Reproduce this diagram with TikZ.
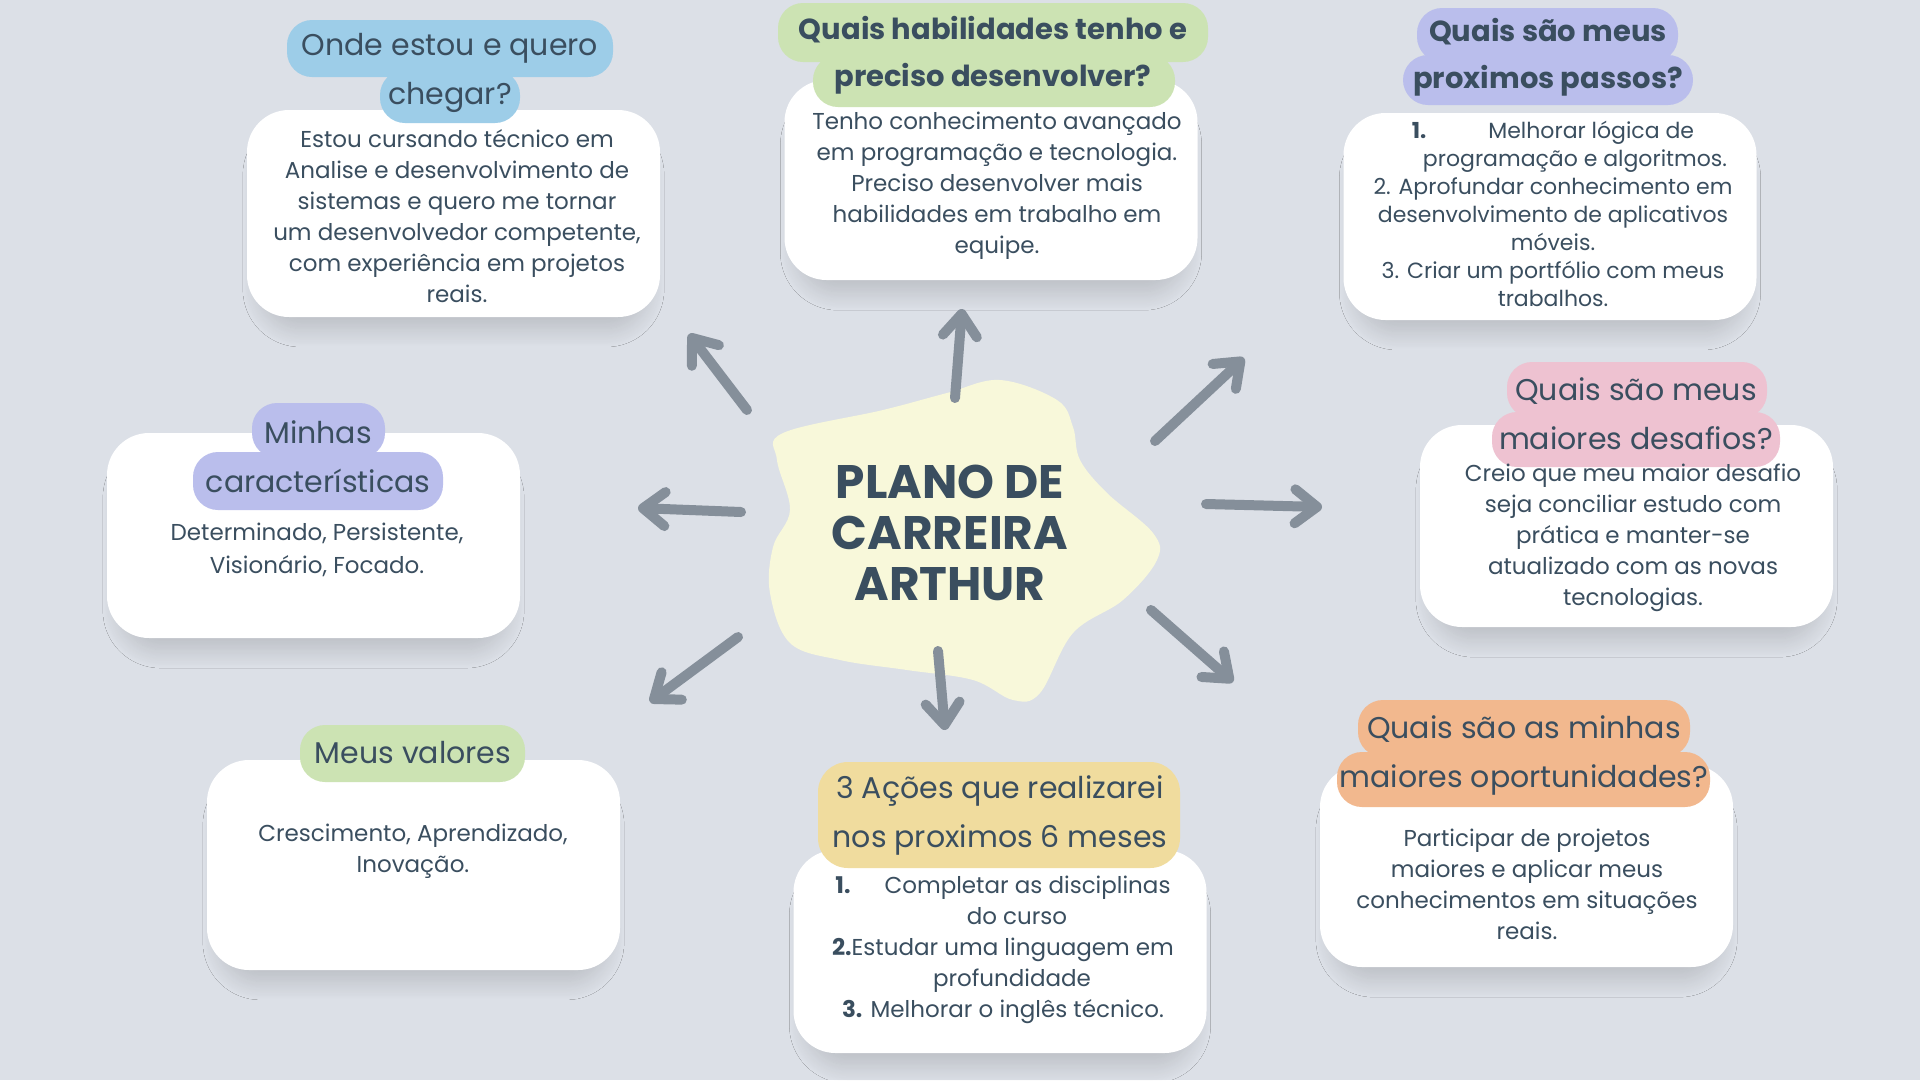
\documentclass[tikz,border=0pt]{standalone}
\usepackage{fontspec}
\setmainfont{Poppins}
\usepackage{xcolor}
\usepackage{tikz}
\usetikzlibrary{arrows.meta,shadows.blur}

\definecolor{bg}{HTML}{DCE0E7}
\definecolor{ink}{HTML}{3A4E5F}
\definecolor{arrowc}{HTML}{858F9A}
\definecolor{blob}{HTML}{F8F8DA}
\definecolor{tblue}{HTML}{9DCDE8}
\definecolor{tgreen}{HTML}{CCE3B3}
\definecolor{tpurple}{HTML}{BABEEC}
\definecolor{tpink}{HTML}{EEC2D1}
\definecolor{tyellow}{HTML}{F0DC9E}
\definecolor{torange}{HTML}{F2B88E}

\begin{document}
\begin{tikzpicture}[x=1pt, y=-1pt,
  card/.style={fill=white, rounded corners=42pt, minimum width=413pt,
    blur shadow={shadow xshift=0pt, shadow yshift=-20pt, shadow scale=0.93, shadow opacity=16,
      shadow blur radius=20pt, shadow blur steps=24}},
  tab/.style={rounded corners=25pt, inner sep=0pt},
  head/.style={text=ink, align=center, font=\fontsize{30}{49}\selectfont},
  headb/.style={text=ink, align=center, font=\bfseries\fontsize{29}{47}\selectfont},
  body/.style={text=ink, align=center, font=\fontsize{23}{31}\selectfont},
  arr/.style={draw=arrowc, line width=10pt, line cap=round,
    -{Straight Barb[length=22pt, width=34pt, round]}}]
  \fill[bg] (0,0) rectangle (1920,1080);
  \useasboundingbox (0,0) rectangle (1920,1080);

  % cards
  \node[card, minimum height=207pt] (onde)  at (453.5,213.5) {};
  \node[card, minimum height=200pt] (habil) at (991,180) {};
  \node[card, minimum height=207pt] (passo) at (1550,216.5) {};
  \node[card, minimum height=205pt] (carac) at (313.5,535.5) {};
  \node[card, minimum height=202pt] (desaf) at (1626.5,526) {};
  \node[card, minimum height=210pt] (valor) at (413.5,865) {};
  \node[card, minimum height=203pt] (acoes) at (1000,951.5) {};
  \node[card, minimum height=202pt] (oport) at (1526.5,866) {};

  % header tabs
  \node[tab, fill=tblue, minimum width=326pt, minimum height=57pt] (ondea) at (450,48.5) {};
  \node[tab, fill=tblue, minimum width=140pt, minimum height=53pt] (ondeb) at (450,96.5) {};
  \node[tab, fill=tgreen, minimum width=430pt, minimum height=59pt] (habila) at (993,32.5) {};
  \node[tab, fill=tgreen, minimum width=362pt, minimum height=52pt] (habilb) at (994,81) {};
  \node[tab, fill=tpurple, minimum width=261pt, minimum height=54pt] (passoa) at (1547.5,35) {};
  \node[tab, fill=tpurple, minimum width=290pt, minimum height=50pt] (passob) at (1548,80) {};
  \node[tab, fill=tpurple, minimum width=133pt, minimum height=55pt] (caraca) at (318.5,430.5) {};
  \node[tab, fill=tpurple, minimum width=250pt, minimum height=58pt] (caracb) at (318,481) {};
  \node[tab, fill=tpink, minimum width=260pt, minimum height=56pt] (desafa) at (1637,390) {};
  \node[tab, fill=tpink, minimum width=288pt, minimum height=55pt] (desafb) at (1636,439.5) {};
  \node[tab, fill=tgreen, minimum width=225pt, minimum height=57pt] (valora) at (412.5,753.5) {};
  \node[tab, fill=tyellow, rounded corners=30pt, minimum width=362pt, minimum height=106pt] (acoesa) at (999,815) {};
  \node[tab, fill=torange, minimum width=332pt, minimum height=57pt] (oporta) at (1524,728.5) {};
  \node[tab, fill=torange, minimum width=373pt, minimum height=55pt] (oportb) at (1523.5,779.5) {};

  % center blob
  \fill[blob] plot[smooth cycle, tension=0.6] coordinates {
    (783,433) (883,410) (947,393) (1000,380) (1057,400) (1073,427) (1080,460)
    (1107,493) (1153,533) (1157,560) (1123,600) (1073,633) (1040,693) (1013,700)
    (973,680) (907,670) (840,660) (790,643) (770,593) (773,547) (790,510) (777,460)};
  \node[text=ink, align=center, font=\bfseries\fontsize{47}{51}\selectfont] (title) at (950,533)
    {PLANO DE\\CARREIRA\\ARTHUR};

  % headings
  \node[head] (ondeh) at (450,72.5) {Onde estou e quero\\chegar?};
  \node[headb] (habilh) at (993,55) {Quais habilidades tenho e\\preciso desenvolver?};
  \node[headb] (passoh) at (1548,57.5) {Quais são meus\\proximos passos?};
  \node[head] (carach) at (318,457) {Minhas\\características};
  \node[head] (desafh) at (1636,414) {Quais são meus\\maiores desafios?};
  \node[head] (valorh) at (413,753) {Meus valores};
  \node[head] (acoesh) at (1000,815) {3 Ações que realizarei\\nos proximos 6 meses};
  \node[head] (oporth) at (1524,755) {Quais são as minhas\\maiores oportunidades?};

  % texts
  \node[body] (ondet) at (457,216.5) {Estou cursando técnico em\\Analise e desenvolvimento de\\sistemas e quero me tornar\\um desenvolvedor competente,\\com experiência em projetos\\reais.};
  \node[body] (habilt) at (997,185.5) {Tenho conhecimento avançado\\em programação e tecnologia.\\Preciso desenvolver mais\\habilidades em trabalho em\\equipe.};
  \node[body, font=\fontsize{22}{28}\selectfont] (passot) at (1553,213.5)
    {{\bfseries 1.}\hspace{62pt}Melhorar lógica de\\\hspace*{44pt}programação e algoritmos.\\2. Aprofundar conhecimento em\\desenvolvimento de aplicativos\\móveis.\\3. Criar um portfólio com meus\\trabalhos.};
  \node[body, font=\fontsize{23}{33}\selectfont] (caract) at (317,550) {Determinado, Persistente,\\Visionário, Focado.};
  \node[body] (desaft) at (1633,537.5) {Creio que meu maior desafio\\seja conciliar estudo com\\prática e manter-se\\atualizado com as novas\\tecnologias.};
  \node[body] (valort) at (413,851) {Crescimento, Aprendizado,\\Inovação.};
  \node[body] (acoest) at (1003,949.5)
    {{\bfseries 1.}\hspace{34pt}Completar as disciplinas\\\hspace*{28pt}do curso\\{\bfseries 2.}Estudar uma linguagem em\\\hspace*{18pt}profundidade\\{\bfseries 3.} Melhorar o inglês técnico.};
  \node[body] (oportt) at (1527,884) {Participar de projetos\\maiores e aplicar meus\\conhecimentos em situações\\reais.};

  % arrows
  \coordinate (s1) at (747,410);  \coordinate (e1) at (689,334);
  \coordinate (s2) at (955,398);  \coordinate (e2) at (962,309);
  \coordinate (s3) at (1155,441); \coordinate (e3) at (1244,358);
  \coordinate (s4) at (741,512);  \coordinate (e4) at (638,508);
  \coordinate (s5) at (1206,504); \coordinate (e5) at (1322,507);
  \coordinate (s6) at (738,637);  \coordinate (e6) at (650,702);
  \coordinate (s7) at (938,651);  \coordinate (e7) at (945,730);
  \coordinate (s8) at (1151,610); \coordinate (e8) at (1233,682);
  \draw[arr] (s1) -- (e1);
  \draw[arr] (s2) -- (e2);
  \draw[arr] (s3) -- (e3);
  \draw[arr] (s4) -- (e4);
  \draw[arr] (s5) -- (e5);
  \draw[arr] (s6) -- (e6);
  \draw[arr] (s7) -- (e7);
  \draw[arr] (s8) -- (e8);
\end{tikzpicture}
\end{document}
